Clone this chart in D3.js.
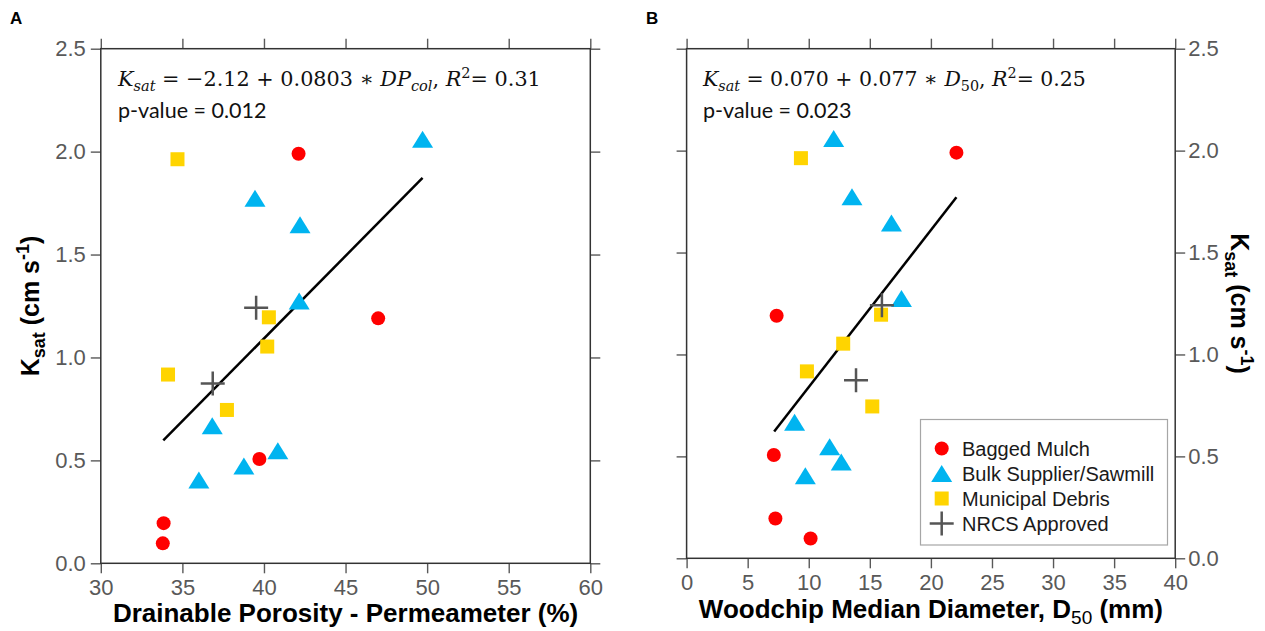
<!DOCTYPE html>
<html><head><meta charset="utf-8">
<script src="https://cdn.jsdelivr.net/npm/d3@7"></script>
<style>body{margin:0;background:#fff}svg{display:block}</style>
</head><body>
<svg id="chart" width="1265" height="631"></svg>
<script>
// ---------- data ----------
const seriesNames = ["Bagged Mulch", "Bulk Supplier/Sawmill", "Municipal Debris", "NRCS Approved"];

const baggedKsat = [1.99, 1.19, 0.507, 0.195, 0.097];
const baggedDP   = [42.12, 47.0, 39.72, 33.85, 33.8];
const baggedD50  = [22.09, 7.37, 7.14, 7.27, 10.15];

const bulkKsat = [2.06, 1.774, 1.645, 1.274, 0.668, 0.547, 0.473, 0.405];
const bulkDP   = [49.72, 39.45, 42.21, 42.16, 36.83, 40.85, 38.77, 36.01];
const bulkD50  = [12.04, 13.54, 16.77, 17.59, 8.84, 11.71, 12.66, 9.72];

const muniKsat = [1.963, 1.195, 1.053, 0.917, 0.745];
const muniDP   = [34.70, 40.30, 40.20, 34.12, 37.73];
const muniD50  = [9.36, 15.92, 12.82, 9.85, 15.20];

const nrcsKsat = [1.241, 0.873];
const nrcsDP   = [39.52, 36.86];
const nrcsD50  = [15.99, 13.87];

// regression line end points (from the printed equations)
const fitAX = [33.83, 49.72], fitAY = [0.597, 1.872];
const fitBX = [7.17, 22.09],  fitBY = [0.622, 1.771];

const xTicksA = [30, 35, 40, 45, 50, 55, 60];
const xTicksB = [0, 5, 10, 15, 20, 25, 30, 35, 40];
const yTicks  = [0, 0.5, 1.0, 1.5, 2.0, 2.5];

// ---------- styles ----------
const COL = {bagged: "#ff0000", bulk: "#00b4f0", muni: "#ffd400", nrcs: "#555555"};
const AX = "#595959";
const SANS = "'Liberation Sans', Arial, sans-serif";
const svg = d3.select("#chart");

function zip(xs, ys) { return xs.map((v, i) => ({x: v, y: ys[i]})); }

function drawMarker(g, type, cx, cy) {
  if (type === "bagged") {
    g.append("circle").attr("cx", cx).attr("cy", cy).attr("r", 7).attr("fill", COL.bagged);
  } else if (type === "bulk") {
    g.append("path").attr("transform", `translate(${cx},${cy})`)
      .attr("d", "M0,-8.5L10.5,8.5L-10.5,8.5Z").attr("fill", COL.bulk);
  } else if (type === "muni") {
    g.append("rect").attr("x", cx - 7).attr("y", cy - 7).attr("width", 14).attr("height", 14).attr("fill", COL.muni);
  } else {
    g.append("path").attr("transform", `translate(${cx},${cy})`)
      .attr("d", "M-12,0H12M0,-12V12").attr("stroke", COL.nrcs).attr("stroke-width", 2.5).attr("fill", "none");
  }
}

function styleAxis(g) {
  g.select(".domain").remove();
  g.selectAll(".tick line").attr("stroke", AX).attr("stroke-width", 1.4);
  g.selectAll(".tick text").attr("fill", AX).style("font-family", SANS).style("font-size", "22px");
}

// math-style equation: parts = [text, italic, shift(+down/-up, in em of base), script]
function buildEq(textSel, parts, fs) {
  textSel.selectAll("tspan").remove();
  textSel.style("font-size", fs + "px");
  let cur = 0;
  parts.forEach(p => {
    const t = textSel.append("tspan").text(p[0]);
    if (p[1]) t.style("font-style", "italic");
    const shift = (p[2] || 0) * fs;
    t.attr("dy", shift - cur);
    cur = shift;
    if (p[3]) t.style("font-size", (fs * 0.7) + "px");
  });
}

function drawPanel(cfg) {
  const x = d3.scaleLinear().domain(cfg.xDomain).range(cfg.xRange);
  const y = d3.scaleLinear().domain([0, 2.5]).range(cfg.yRange);
  const g = svg.append("g");
  const [x0, x1] = cfg.xRange, [yb, yt] = cfg.yRange;

  g.append("g").attr("transform", `translate(0,${yb})`)
    .call(d3.axisBottom(x).tickValues(cfg.xTicks).tickSize(10).tickPadding(6).tickFormat(d3.format("d"))).call(styleAxis);
  g.append("g").attr("transform", `translate(0,${yt})`)
    .call(d3.axisTop(x).tickValues(cfg.xTicks).tickSize(10).tickFormat(() => "")).call(styleAxis);
  g.append("g").attr("transform", `translate(${x0},0)`)
    .call(d3.axisLeft(y).tickValues(yTicks).tickSize(10).tickPadding(5)
      .tickFormat(cfg.yLabelsLeft ? d3.format(".1f") : () => "")).call(styleAxis);
  g.append("g").attr("transform", `translate(${x1},0)`)
    .call(d3.axisRight(y).tickValues(yTicks).tickSize(10).tickPadding(3)
      .tickFormat(cfg.yLabelsLeft ? () => "" : d3.format(".1f"))).call(styleAxis);

  g.append("rect").attr("x", x0).attr("y", yt).attr("width", x1 - x0).attr("height", yb - yt)
    .attr("fill", "none").attr("stroke", "#333").attr("stroke-width", 1.5);

  g.append("path").datum(zip(cfg.fitX, cfg.fitY))
    .attr("d", d3.line().x(d => x(d.x)).y(d => y(d.y)))
    .attr("stroke", "#000").attr("stroke-width", 2.5).attr("fill", "none");

  const mg = g.append("g");
  const layers = [
    ["bulk", zip(cfg.bulkX, bulkKsat)],
    ["muni", zip(cfg.muniX, muniKsat)],
    ["bagged", zip(cfg.baggedX, baggedKsat)],
    ["nrcs", zip(cfg.nrcsX, nrcsKsat)]
  ];
  layers.forEach(([t, pts]) => pts.forEach(p => drawMarker(mg, t, x(p.x), y(p.y))));

  // equation, sized so that its width matches the original
  const eq = g.append("text").attr("x", cfg.eqX).attr("y", 86)
    .style("font-family", "'DejaVu Serif', 'Liberation Serif', serif").attr("fill", "#111");
  buildEq(eq, cfg.eqParts, 22);
  const w = eq.node().getComputedTextLength();
  buildEq(eq, cfg.eqParts, Math.min(26, 22 * cfg.eqW / w));

  g.append("text").attr("x", cfg.eqX).attr("y", 118).text(cfg.pText)
    .style("font-family", "Lato, 'Open Sans', sans-serif").style("font-size", "21.5px").attr("fill", "#111");

  g.append("text").attr("x", cfg.letterX).attr("y", 24).text(cfg.letter)
    .style("font-family", SANS).style("font-size", "17px").style("font-weight", "bold").attr("fill", "#000");

  // x title
  const xt = g.append("text").attr("x", (x0 + x1) / 2).attr("y", cfg.xTitleY).attr("text-anchor", "middle")
    .style("font-family", SANS).style("font-size", "26px").style("font-weight", "bold").attr("fill", "#000");
  cfg.xTitle.forEach(p => {
    const t = xt.append("tspan").text(p[0]);
    if (p[1] !== undefined) t.attr("dy", p[1]);
    if (p[2]) t.style("font-size", "19px").style("font-weight", "normal");
  });

  // y title
  const yTitle = g.append("text")
    .attr("transform", `translate(${cfg.yTitleX},${(yb + yt) / 2}) rotate(${cfg.yRot})`)
    .attr("text-anchor", "middle")
    .style("font-family", SANS).style("font-size", "25px").style("font-weight", "bold").attr("fill", "#000");
  [["K"], ["sat", 6, true], [" (cm s", -6], ["-1", -10, true], [")", 10]].forEach(p => {
    const t = yTitle.append("tspan").text(p[0]);
    if (p[1] !== undefined) t.attr("dy", p[1]);
    if (p[2]) t.style("font-size", "18px");
  });
  return {x, y, g};
}

drawPanel({
  letter: "A", letterX: 10,
  xDomain: [30, 60], xRange: [100.8, 590.3], yRange: [563.3, 48.7], xTicks: xTicksA,
  yLabelsLeft: true,
  baggedX: baggedDP, bulkX: bulkDP, muniX: muniDP, nrcsX: nrcsDP,
  fitX: fitAX, fitY: fitAY,
  eqX: 118, eqW: 423,
  eqParts: [["K", true], ["sat", true, 0.25, true], [" = −2.12 + 0.0803 ∗ "], ["DP", true], ["col", true, 0.25, true],
            [",  "], ["R", true], ["2", false, -0.4, true], ["= 0.31"]],
  pText: "p-value = 0.012",
  xTitleY: 622,
  xTitle: [["Drainable Porosity - Permeameter (%)"]],
  yTitleX: 39, yRot: -90
});

drawPanel({
  letter: "B", letterX: 646,
  xDomain: [0, 40], xRange: [686.6, 1175.2], yRange: [558.3, 48.7], xTicks: xTicksB,
  yLabelsLeft: false,
  baggedX: baggedD50, bulkX: bulkD50, muniX: muniD50, nrcsX: nrcsD50,
  fitX: fitBX, fitY: fitBY,
  eqX: 703, eqW: 383,
  eqParts: [["K", true], ["sat", true, 0.25, true], [" = 0.070 + 0.077 ∗ "], ["D", true], ["50", false, 0.25, true],
            [",  "], ["R", true], ["2", false, -0.4, true], ["= 0.25"]],
  pText: "p-value = 0.023",
  xTitleY: 618,
  xTitle: [["Woodchip Median Diameter, D"], ["50", 6, true], [" (mm)", -6]],
  yTitleX: 1231, yRot: 90
});

// legend (panel B)
const lg = svg.append("g");
lg.append("rect").attr("x", 920.5).attr("y", 419.5).attr("width", 247).attr("height", 125.5)
  .attr("fill", "#fff").attr("stroke", "#a6a6a6").attr("stroke-width", 1.2);
["bagged", "bulk", "muni", "nrcs"].forEach((t, i) => {
  const cy = 448.5 + i * 25;
  drawMarker(lg, t, 941.7, cy);
  lg.append("text").attr("x", 962).attr("y", cy + 7).text(seriesNames[i])
    .style("font-family", SANS).style("font-size", "20px").attr("fill", "#1a1a1a");
});
</script>
</body></html>
